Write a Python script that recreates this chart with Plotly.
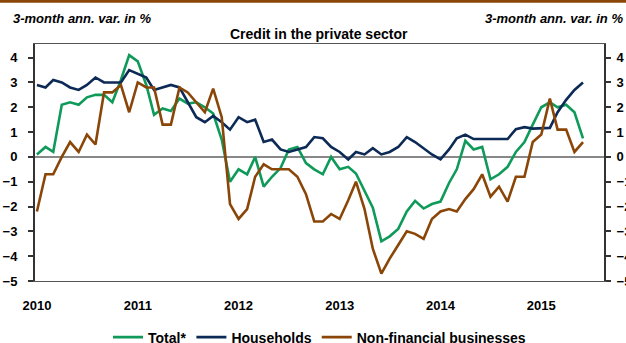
import pandas as pd
import plotly.graph_objects as go

# Monthly observations, Jan 2010 - Jun 2015
months = pd.date_range("2010-01-01", periods=66, freq="MS")

total = [0.1, 0.4, 0.2, 2.1, 2.2, 2.1, 2.4, 2.5, 2.5, 2.2, 3.1, 4.1,
         3.85, 2.9, 1.7, 1.95, 1.85, 2.35, 2.15, 2.2, 2.0, 1.75, 0.7, -1.0,
         -0.5, -0.7, 0.0, -1.2, -0.8, -0.45, 0.3, 0.4, -0.25, -0.5, -0.7, 0.0,
         -0.5, -0.4, -0.67, -1.4, -2.05, -3.4, -3.2, -2.9, -2.2, -1.77, -2.08, -1.9,
         -1.8, -1.05, -0.5, 0.65, 0.3, 0.4, -0.9, -0.7, -0.4, 0.2, 0.6, 1.3,
         2.0, 2.2, 2.0, 2.1, 1.8, 0.75]

households = [2.9, 2.8, 3.1, 3.0, 2.8, 2.7, 2.9, 3.2, 3.0, 3.0, 3.0, 3.5,
              3.35, 3.2, 2.7, 2.8, 2.9, 2.8, 2.2, 1.6, 1.4, 1.65, 1.4, 1.1,
              1.6, 1.4, 1.5, 0.6, 0.7, 0.3, 0.2, 0.3, 0.4, 0.8, 0.75, 0.4,
              0.2, -0.1, 0.2, 0.1, 0.35, 0.1, 0.2, 0.4, 0.8, 0.6, 0.35, 0.1,
              -0.1, 0.3, 0.75, 0.9, 0.72, 0.72, 0.72, 0.72, 0.72, 1.12, 1.2, 1.14,
              1.14, 1.17, 1.8, 2.3, 2.7, 3.0]

businesses = [-2.2, -0.7, -0.7, 0.0, 0.6, 0.2, 0.9, 0.5, 2.6, 2.6, 2.9, 1.8,
              3.0, 2.8, 2.8, 1.3, 1.3, 2.8, 2.6, 2.2, 1.8, 2.75, 1.6, -1.9,
              -2.5, -2.1, -0.8, -0.3, -0.5, -0.5, -0.5, -0.8, -1.5, -2.6, -2.6, -2.3,
              -2.5, -1.75, -1.0, -2.1, -3.7, -4.7, -4.1, -3.55, -3.0, -3.1, -3.3, -2.5,
              -2.2, -2.1, -2.2, -1.7, -1.3, -0.7, -1.6, -1.2, -1.8, -0.8, -0.8, 0.6,
              0.9, 2.35, 1.1, 1.1, 0.2, 0.6]

year_ticks = pd.date_range("2010-01-01", periods=6, freq="YS")
year_labels = ["2010", "2011", "2012", "2013", "2014", "2015"]
y_ticks = [-5, -4, -3, -2, -1, 0, 1, 2, 3, 4]

GREEN = "#0f9a5a"
NAVY = "#0c2a55"
BROWN = "#8a4608"
FONT = "Liberation Sans, Arial, sans-serif"

W, H = 626, 343
ML, MR, MT, MB = 35, 22, 44, 62
PW, PH = W - ML - MR, H - MT - MB

fig = go.Figure()
fig.add_trace(go.Scatter(x=months, y=total, name="Total*", mode="lines",
                         line=dict(color=GREEN, width=2.6)))
fig.add_trace(go.Scatter(x=months, y=households, name="Households", mode="lines",
                         line=dict(color=NAVY, width=2.6)))
fig.add_trace(go.Scatter(x=months, y=businesses, name="Non-financial businesses",
                         mode="lines", line=dict(color=BROWN, width=2.6)))
# carrier trace so the right-hand axis is drawn
fig.add_trace(go.Scatter(x=[months[0]], y=[0], yaxis="y2", mode="lines",
                         showlegend=False, hoverinfo="skip",
                         line=dict(width=0)))

yrange = [-5, 4.55]
bold13 = dict(family=FONT, size=13, color="#000000", weight="bold")
bold14 = dict(family=FONT, size=14, color="#000000", weight="bold")

fig.update_layout(
    width=W, height=H,
    margin=dict(l=ML, r=MR, t=MT, b=MB, pad=0, autoexpand=False),
    paper_bgcolor="white", plot_bgcolor="white",
    font=dict(family=FONT, color="#000000"),
    showlegend=True,
    legend=dict(orientation="h", x=0.5, xanchor="center",
                yref="container", y=1 - 337.5 / H, yanchor="middle",
                font=bold14, itemwidth=30, tracegroupgap=0, traceorder="normal",
                bgcolor="rgba(0,0,0,0)"),
    xaxis=dict(
        range=["2009-12-25", "2015-08-16"], type="date", automargin=False,
        tickvals=list(year_ticks), ticktext=year_labels, tickfont=bold13,
        ticks="", showgrid=False, zeroline=False,
        showline=True, mirror=True, linecolor="#555555", linewidth=1,
        ticklabelstandoff=12,
    ),
    yaxis=dict(
        range=yrange, tickvals=y_ticks, tickfont=bold13, automargin=False,
        ticks="outside", ticklen=5, tickcolor="#333333", tickwidth=1.5,
        showgrid=False, showline=True, linecolor="#333333", linewidth=2,
        zeroline=True, zerolinecolor="#888888", zerolinewidth=1.5,
        ticklabelstandoff=8,
    ),
    yaxis2=dict(
        range=yrange, tickvals=y_ticks, overlaying="y", side="right",
        tickfont=bold13, automargin=False,
        ticks="outside", ticklen=5, tickcolor="#333333", tickwidth=1.5,
        showgrid=False, showline=True, linecolor="#333333", linewidth=2,
        zeroline=False, ticklabelstandoff=3,
    ),
    shapes=[
        # brown band along the top edge
        dict(type="rect", xref="paper", yref="paper",
             x0=-ML / PW, x1=1 + MR / PW,
             y0=1 + (MT - 2.7) / PH, y1=1 + MT / PH + 0.01,
             fillcolor=BROWN, line=dict(width=0), layer="above"),
    ],
    annotations=[
        dict(text="<b><i>3-month ann. var. in %</i></b>", xref="paper", yref="paper",
             x=(11 - ML) / PW, y=1 + (MT - 18) / PH, xanchor="left", yanchor="middle",
             showarrow=False, font=dict(family=FONT, size=13, color="#000000")),
        dict(text="<b><i>3-month ann. var. in %</i></b>", xref="paper", yref="paper",
             x=(625 - ML) / PW, y=1 + (MT - 18) / PH, xanchor="right", yanchor="middle",
             showarrow=False, font=dict(family=FONT, size=13, color="#000000")),
        dict(text="<b>Credit in the private sector</b>", xref="paper", yref="paper",
             x=(319 - ML) / PW, y=1 + (MT - 34) / PH, xanchor="center", yanchor="middle",
             showarrow=False, font=dict(family=FONT, size=14, color="#000000")),
    ],
)

fig.write_html("out.html")
